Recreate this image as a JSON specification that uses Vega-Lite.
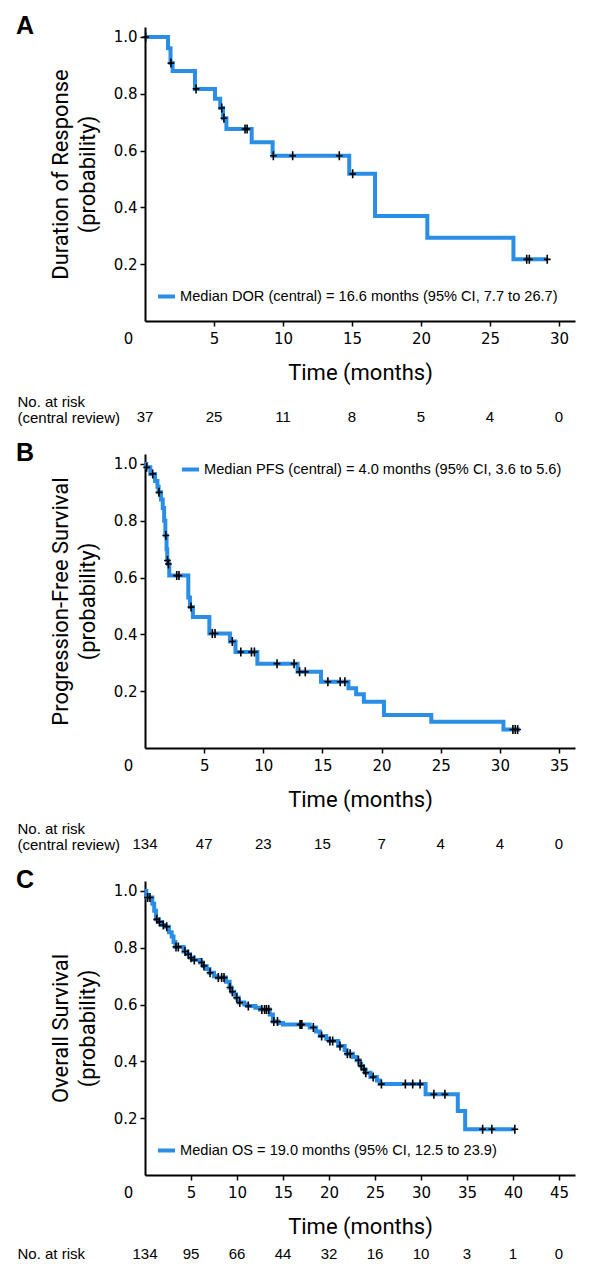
{
  "$schema": "https://vega.github.io/schema/vega-lite/v6.json",
  "background": "white",
  "padding": {"left": 16, "top": 14, "right": 12, "bottom": 8},
  "bounds": "flush",
  "spacing": 0,
  "resolve": {"scale": {"color": "independent"}, "legend": {"color": "independent"}},
  "datasets": {
    "dorSteps": [
      {"t": 0, "s": 1.0}, {"t": 1.67, "s": 0.96}, {"t": 1.85, "s": 0.908}, {"t": 2.0, "s": 0.88},
      {"t": 3.62, "s": 0.817}, {"t": 5.07, "s": 0.782}, {"t": 5.45, "s": 0.75}, {"t": 5.65, "s": 0.714},
      {"t": 5.9, "s": 0.676}, {"t": 7.73, "s": 0.629}, {"t": 9.25, "s": 0.582}, {"t": 14.8, "s": 0.518},
      {"t": 16.67, "s": 0.37}, {"t": 20.46, "s": 0.293}, {"t": 26.7, "s": 0.217}, {"t": 29.2, "s": 0.217}
    ],
    "dorCens": [
      {"t": 0.05, "s": 1.0}, {"t": 1.88, "s": 0.908}, {"t": 3.7, "s": 0.817}, {"t": 5.56, "s": 0.75},
      {"t": 5.72, "s": 0.714}, {"t": 7.25, "s": 0.676}, {"t": 7.4, "s": 0.676}, {"t": 9.3, "s": 0.582},
      {"t": 10.7, "s": 0.582}, {"t": 14.08, "s": 0.582}, {"t": 15.05, "s": 0.518}, {"t": 27.66, "s": 0.217},
      {"t": 27.85, "s": 0.217}, {"t": 29.15, "s": 0.217}
    ],
    "pfsSteps": [
      {"t": 0, "s": 1.0}, {"t": 0.1, "s": 0.988}, {"t": 0.45, "s": 0.965}, {"t": 0.85, "s": 0.94},
      {"t": 1.05, "s": 0.92}, {"t": 1.15, "s": 0.9}, {"t": 1.35, "s": 0.875}, {"t": 1.5, "s": 0.845},
      {"t": 1.62, "s": 0.8}, {"t": 1.72, "s": 0.748}, {"t": 1.82, "s": 0.7}, {"t": 1.88, "s": 0.66},
      {"t": 1.95, "s": 0.648}, {"t": 2.05, "s": 0.607}, {"t": 3.66, "s": 0.53}, {"t": 3.8, "s": 0.496},
      {"t": 4.05, "s": 0.461}, {"t": 5.44, "s": 0.403}, {"t": 7.18, "s": 0.375}, {"t": 7.65, "s": 0.338},
      {"t": 9.5, "s": 0.297}, {"t": 12.9, "s": 0.268}, {"t": 14.88, "s": 0.233}, {"t": 17.2, "s": 0.21},
      {"t": 17.85, "s": 0.189}, {"t": 18.5, "s": 0.163}, {"t": 20.2, "s": 0.116}, {"t": 24.2, "s": 0.0925},
      {"t": 30.3, "s": 0.065}, {"t": 31.7, "s": 0.065}
    ],
    "pfsCens": [
      {"t": 0.14, "s": 0.988}, {"t": 0.65, "s": 0.965}, {"t": 1.18, "s": 0.9}, {"t": 1.76, "s": 0.748},
      {"t": 1.9, "s": 0.66}, {"t": 1.98, "s": 0.648}, {"t": 2.68, "s": 0.607}, {"t": 2.87, "s": 0.607},
      {"t": 3.89, "s": 0.496}, {"t": 5.69, "s": 0.403}, {"t": 5.92, "s": 0.403}, {"t": 7.38, "s": 0.375},
      {"t": 8.1, "s": 0.338}, {"t": 9.0, "s": 0.338}, {"t": 9.25, "s": 0.338}, {"t": 11.16, "s": 0.297},
      {"t": 12.6, "s": 0.297}, {"t": 13.07, "s": 0.268}, {"t": 13.55, "s": 0.268}, {"t": 15.46, "s": 0.233},
      {"t": 16.5, "s": 0.233}, {"t": 16.9, "s": 0.233}, {"t": 31.1, "s": 0.065}, {"t": 31.3, "s": 0.065},
      {"t": 31.5, "s": 0.065}
    ],
    "osSteps": [
      {"t": 0, "s": 1.0}, {"t": 0.15, "s": 0.985}, {"t": 0.25, "s": 0.977}, {"t": 0.8, "s": 0.955},
      {"t": 1.0, "s": 0.93}, {"t": 1.2, "s": 0.9}, {"t": 1.5, "s": 0.891}, {"t": 1.8, "s": 0.88},
      {"t": 2.2, "s": 0.874}, {"t": 2.6, "s": 0.855}, {"t": 2.9, "s": 0.84}, {"t": 3.1, "s": 0.82},
      {"t": 3.3, "s": 0.803}, {"t": 4.2, "s": 0.787}, {"t": 4.6, "s": 0.777}, {"t": 4.9, "s": 0.765},
      {"t": 5.3, "s": 0.757}, {"t": 6.0, "s": 0.748}, {"t": 6.3, "s": 0.736}, {"t": 6.7, "s": 0.725},
      {"t": 7.0, "s": 0.712}, {"t": 7.5, "s": 0.7}, {"t": 7.8, "s": 0.695}, {"t": 8.8, "s": 0.68},
      {"t": 9.2, "s": 0.66}, {"t": 9.4, "s": 0.645}, {"t": 9.7, "s": 0.635}, {"t": 9.9, "s": 0.624},
      {"t": 10.2, "s": 0.607}, {"t": 10.8, "s": 0.6}, {"t": 11.1, "s": 0.595}, {"t": 12.0, "s": 0.589},
      {"t": 12.5, "s": 0.583}, {"t": 13.55, "s": 0.565}, {"t": 13.9, "s": 0.54}, {"t": 14.5, "s": 0.535},
      {"t": 15.0, "s": 0.53}, {"t": 17.9, "s": 0.519}, {"t": 18.6, "s": 0.505}, {"t": 19.0, "s": 0.489},
      {"t": 19.7, "s": 0.48}, {"t": 20.0, "s": 0.472}, {"t": 21.0, "s": 0.454}, {"t": 21.7, "s": 0.44},
      {"t": 21.9, "s": 0.427}, {"t": 22.6, "s": 0.415}, {"t": 23.0, "s": 0.404}, {"t": 23.3, "s": 0.392},
      {"t": 23.5, "s": 0.384}, {"t": 23.7, "s": 0.372}, {"t": 23.95, "s": 0.36}, {"t": 24.5, "s": 0.345},
      {"t": 25.2, "s": 0.333}, {"t": 25.5, "s": 0.32}, {"t": 30.5, "s": 0.284}, {"t": 34.0, "s": 0.225},
      {"t": 34.8, "s": 0.161}, {"t": 40.2, "s": 0.161}
    ],
    "osCens": [
      {"t": 0.29, "s": 0.977}, {"t": 0.54, "s": 0.977}, {"t": 1.27, "s": 0.9}, {"t": 1.56, "s": 0.891},
      {"t": 1.99, "s": 0.88}, {"t": 2.36, "s": 0.874}, {"t": 3.37, "s": 0.803}, {"t": 3.62, "s": 0.803},
      {"t": 4.35, "s": 0.787}, {"t": 4.7, "s": 0.777}, {"t": 5.0, "s": 0.765}, {"t": 5.36, "s": 0.757},
      {"t": 6.16, "s": 0.748}, {"t": 6.41, "s": 0.736}, {"t": 7.07, "s": 0.712}, {"t": 7.97, "s": 0.695},
      {"t": 8.33, "s": 0.695}, {"t": 8.59, "s": 0.695}, {"t": 9.24, "s": 0.66}, {"t": 9.49, "s": 0.645},
      {"t": 9.96, "s": 0.624}, {"t": 10.3, "s": 0.607}, {"t": 11.23, "s": 0.595}, {"t": 12.7, "s": 0.583},
      {"t": 13.0, "s": 0.583}, {"t": 13.2, "s": 0.583}, {"t": 13.45, "s": 0.583}, {"t": 14.0, "s": 0.54},
      {"t": 14.4, "s": 0.54}, {"t": 16.85, "s": 0.53}, {"t": 16.95, "s": 0.53}, {"t": 17.05, "s": 0.53},
      {"t": 18.3, "s": 0.519}, {"t": 19.2, "s": 0.489}, {"t": 20.1, "s": 0.472}, {"t": 20.4, "s": 0.472},
      {"t": 21.2, "s": 0.454}, {"t": 22.0, "s": 0.427}, {"t": 22.3, "s": 0.427}, {"t": 23.2, "s": 0.404},
      {"t": 23.5, "s": 0.384}, {"t": 23.8, "s": 0.372}, {"t": 24.0, "s": 0.36}, {"t": 24.8, "s": 0.345},
      {"t": 25.7, "s": 0.32}, {"t": 28.3, "s": 0.32}, {"t": 29.1, "s": 0.32}, {"t": 29.9, "s": 0.32},
      {"t": 31.4, "s": 0.284}, {"t": 32.6, "s": 0.284}, {"t": 36.7, "s": 0.161}, {"t": 37.7, "s": 0.161},
      {"t": 40.2, "s": 0.161}
    ],
    "dorRisk": [
      {"t": 0, "n": 37, "row": "No. at risk|(central review)"}, {"t": 5, "n": 25, "row": "No. at risk|(central review)"},
      {"t": 10, "n": 11, "row": "No. at risk|(central review)"}, {"t": 15, "n": 8, "row": "No. at risk|(central review)"},
      {"t": 20, "n": 5, "row": "No. at risk|(central review)"}, {"t": 25, "n": 4, "row": "No. at risk|(central review)"},
      {"t": 30, "n": 0, "row": "No. at risk|(central review)"}
    ],
    "pfsRisk": [
      {"t": 0, "n": 134, "row": "No. at risk|(central review)"}, {"t": 5, "n": 47, "row": "No. at risk|(central review)"},
      {"t": 10, "n": 23, "row": "No. at risk|(central review)"}, {"t": 15, "n": 15, "row": "No. at risk|(central review)"},
      {"t": 20, "n": 7, "row": "No. at risk|(central review)"}, {"t": 25, "n": 4, "row": "No. at risk|(central review)"},
      {"t": 30, "n": 4, "row": "No. at risk|(central review)"}, {"t": 35, "n": 0, "row": "No. at risk|(central review)"}
    ],
    "osRisk": [
      {"t": 0, "n": 134, "row": "No. at risk"}, {"t": 5, "n": 95, "row": "No. at risk"},
      {"t": 10, "n": 66, "row": "No. at risk"}, {"t": 15, "n": 44, "row": "No. at risk"},
      {"t": 20, "n": 32, "row": "No. at risk"}, {"t": 25, "n": 16, "row": "No. at risk"},
      {"t": 30, "n": 10, "row": "No. at risk"}, {"t": 35, "n": 3, "row": "No. at risk"},
      {"t": 40, "n": 1, "row": "No. at risk"}, {"t": 45, "n": 0, "row": "No. at risk"}
    ]
  },
  "vconcat": [
    {
      "width": 430, "height": 294,
      "title": {"text": "A", "dy": 16},
      "layer": [
        {
          "data": {"name": "dorSteps"},
          "mark": {"type": "line", "interpolate": "step-after", "strokeWidth": 4},
          "encoding": {
            "x": {"field": "t", "type": "quantitative", "scale": {"domain": [0, 31.16], "nice": false, "zero": false},
              "axis": {"values": [0, 5, 10, 15, 20, 25, 30], "format": "d", "title": "Time (months)",
                "labelOffset": {"condition": {"test": "datum.value === 0", "value": -17}, "value": 0},
                "tickOpacity": {"condition": {"test": "datum.value === 0", "value": 0}, "value": 1}}},
            "y": {"field": "s", "type": "quantitative", "scale": {"domain": [0, 1.035], "nice": false},
              "axis": {"values": [0.2, 0.4, 0.6, 0.8, 1.0], "format": ".1f", "title": ["Duration of Response", "(probability)"]}},
            "color": {"datum": "Median DOR (central) = 16.6 months (95% CI, 7.7 to 26.7)", "type": "nominal",
              "scale": {"range": ["#2a8de6"]},
              "legend": {"legendX": 11, "legendY": 259}}
          }
        },
        {
          "data": {"name": "dorCens"},
          "mark": {"type": "point", "shape": "M-0.75,0L0.75,0M0,-1L0,1", "filled": false, "color": "black", "strokeWidth": 1.6, "size": 81, "opacity": 1},
          "encoding": {
            "x": {"field": "t", "type": "quantitative"},
            "y": {"field": "s", "type": "quantitative"}
          }
        }
      ]
    },
    {
      "width": 430, "height": 132.5,
      "data": {"name": "dorRisk"},
      "mark": {"type": "text", "fontSize": 15, "font": "Liberation Sans", "color": "black", "baseline": "bottom"},
      "encoding": {
        "x": {"field": "t", "type": "quantitative", "scale": {"domain": [0, 31.16], "nice": false}, "axis": null},
        "y": {"field": "row", "type": "nominal", "scale": {"align": 0.785},
          "axis": {"title": null, "domain": false, "ticks": false, "labelAlign": "left", "labelBaseline": "bottom", "labelOffset": -16, "labelPadding": 128, "labelFontSize": 15, "labelFont": "Liberation Sans", "labelLimit": 300, "labelLineHeight": 16, "labelExpr": "split(datum.label, '|')"}},
        "text": {"field": "n", "type": "quantitative"}
      }
    },
    {
      "width": 430, "height": 294,
      "title": {"text": "B", "dy": 16},
      "layer": [
        {
          "data": {"name": "pfsSteps"},
          "mark": {"type": "line", "interpolate": "step-after", "strokeWidth": 4},
          "encoding": {
            "x": {"field": "t", "type": "quantitative", "scale": {"domain": [0, 36.35], "nice": false, "zero": false},
              "axis": {"values": [0, 5, 10, 15, 20, 25, 30, 35], "format": "d", "title": "Time (months)",
                "labelOffset": {"condition": {"test": "datum.value === 0", "value": -17}, "value": 0},
                "tickOpacity": {"condition": {"test": "datum.value === 0", "value": 0}, "value": 1}}},
            "y": {"field": "s", "type": "quantitative", "scale": {"domain": [0, 1.035], "nice": false},
              "axis": {"values": [0.2, 0.4, 0.6, 0.8, 1.0], "format": ".1f", "title": ["Progression-Free Survival", "(probability)"]}},
            "color": {"datum": "Median PFS (central) = 4.0 months (95% CI, 3.6 to 5.6)", "type": "nominal",
              "scale": {"range": ["#2a8de6"]},
              "legend": {"legendX": 35, "legendY": 5}}
          }
        },
        {
          "data": {"name": "pfsCens"},
          "mark": {"type": "point", "shape": "M-0.75,0L0.75,0M0,-1L0,1", "filled": false, "color": "black", "strokeWidth": 1.6, "size": 81, "opacity": 1},
          "encoding": {
            "x": {"field": "t", "type": "quantitative"},
            "y": {"field": "s", "type": "quantitative"}
          }
        }
      ]
    },
    {
      "width": 430, "height": 132.5,
      "data": {"name": "pfsRisk"},
      "mark": {"type": "text", "fontSize": 15, "font": "Liberation Sans", "color": "black", "baseline": "bottom"},
      "encoding": {
        "x": {"field": "t", "type": "quantitative", "scale": {"domain": [0, 36.35], "nice": false}, "axis": null},
        "y": {"field": "row", "type": "nominal", "scale": {"align": 0.785},
          "axis": {"title": null, "domain": false, "ticks": false, "labelAlign": "left", "labelBaseline": "bottom", "labelOffset": -16, "labelPadding": 128, "labelFontSize": 15, "labelFont": "Liberation Sans", "labelLimit": 300, "labelLineHeight": 16, "labelExpr": "split(datum.label, '|')"}},
        "text": {"field": "n", "type": "quantitative"}
      }
    },
    {
      "width": 430, "height": 294,
      "title": {"text": "C", "dy": 16},
      "layer": [
        {
          "data": {"name": "osSteps"},
          "mark": {"type": "line", "interpolate": "step-after", "strokeWidth": 4},
          "encoding": {
            "x": {"field": "t", "type": "quantitative", "scale": {"domain": [0, 46.74], "nice": false, "zero": false},
              "axis": {"values": [0, 5, 10, 15, 20, 25, 30, 35, 40, 45], "format": "d", "title": "Time (months)",
                "labelOffset": {"condition": {"test": "datum.value === 0", "value": -17}, "value": 0},
                "tickOpacity": {"condition": {"test": "datum.value === 0", "value": 0}, "value": 1}}},
            "y": {"field": "s", "type": "quantitative", "scale": {"domain": [0, 1.035], "nice": false},
              "axis": {"values": [0.2, 0.4, 0.6, 0.8, 1.0], "format": ".1f", "title": ["Overall Survival", "(probability)"]}},
            "color": {"datum": "Median OS = 19.0 months (95% CI, 12.5 to 23.9)", "type": "nominal",
              "scale": {"range": ["#2a8de6"]},
              "legend": {"legendX": 11, "legendY": 259}}
          }
        },
        {
          "data": {"name": "osCens"},
          "mark": {"type": "point", "shape": "M-0.75,0L0.75,0M0,-1L0,1", "filled": false, "color": "black", "strokeWidth": 1.6, "size": 81, "opacity": 1},
          "encoding": {
            "x": {"field": "t", "type": "quantitative"},
            "y": {"field": "s", "type": "quantitative"}
          }
        }
      ]
    },
    {
      "width": 430, "height": 95,
      "data": {"name": "osRisk"},
      "mark": {"type": "text", "fontSize": 15, "font": "Liberation Sans", "color": "black", "baseline": "alphabetic"},
      "encoding": {
        "x": {"field": "t", "type": "quantitative", "scale": {"domain": [0, 46.74], "nice": false}, "axis": null},
        "y": {"field": "row", "type": "nominal", "scale": {"align": 0.883},
          "axis": {"title": null, "domain": false, "ticks": false, "labelAlign": "left", "labelBaseline": "alphabetic", "labelPadding": 128, "labelFontSize": 15, "labelFont": "Liberation Sans", "labelLimit": 300}},
        "text": {"field": "n", "type": "quantitative"}
      }
    }
  ],
  "config": {
    "font": "Liberation Sans",
    "view": {"stroke": null},
    "axis": {
      "grid": false, "domainColor": "black", "domainWidth": 2, "tickColor": "black", "tickWidth": 1.5, "tickSize": 5,
      "labelColor": "black", "labelFont": "DejaVu Sans", "labelFontSize": 15, "labelFlush": false, "labelOverlap": false,
      "titleColor": "black", "titleFont": "Roboto", "titleFontSize": 22, "titleFontWeight": "normal"
    },
    "axisX": {"labelPadding": 5, "titlePadding": 16},
    "axisY": {"labelPadding": 3, "titlePadding": 14, "titleLineHeight": 27},
    "legend": {
      "orient": "none", "title": null, "symbolType": "stroke", "symbolStrokeWidth": 4, "symbolSize": 289,
      "labelFont": "Liberation Sans", "labelFontSize": 14.6, "labelColor": "black", "labelLimit": 600, "labelOffset": 3, "padding": 0
    },
    "title": {"anchor": "start", "frame": "group", "dx": -129, "offset": 0, "fontSize": 25, "fontWeight": "bold", "font": "Liberation Sans", "color": "black"}
  }
}
